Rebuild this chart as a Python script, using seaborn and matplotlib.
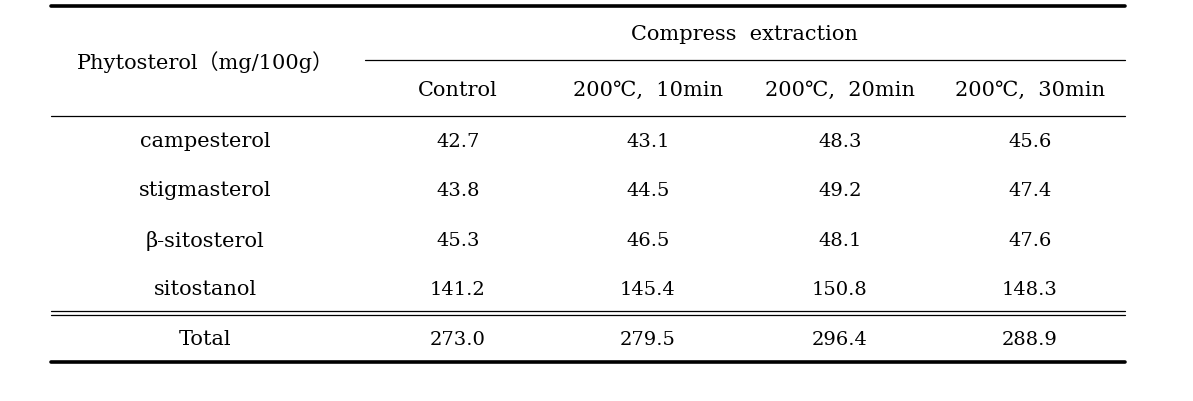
import numpy as np
import matplotlib
matplotlib.use("Agg")
import matplotlib.pyplot as plt
import seaborn as sns

# table content
header_group = "Compress  extraction"
row_header = "Phytosterol（mg/100g）"
columns = ["Control", "200℃,  10min", "200℃,  20min", "200℃,  30min"]
compounds = ["campesterol", "stigmasterol", "β-sitosterol", "sitostanol"]
control = [42.7, 43.8, 45.3, 141.2]
min10 = [43.1, 44.5, 46.5, 145.4]
min20 = [48.3, 49.2, 48.1, 150.8]
min30 = [45.6, 47.4, 47.6, 148.3]
totals = [273.0, 279.5, 296.4, 288.9]

sns.set_style("white")
plt.rcParams['font.family'] = ['DejaVu Serif', 'Noto Sans CJK KR']

fig = plt.figure(figsize=(11.93, 4.02), dpi=100)
ax = fig.add_axes([0, 0, 1, 1])
ax.set_xlim(0, 1193)
ax.set_ylim(402, 0)
ax.axis("off")

fs_txt = 15
fs_num = 14
col_x = [458, 648, 840, 1030]
label_x = 205
row_y = [142, 191, 241, 290]
left, right = 51, 1125

# rules
ax.plot([left, right], [6.5, 6.5], color="black", lw=2.6)
ax.plot([365, right], [61, 61], color="black", lw=0.9)
ax.plot([left, right], [117, 117], color="black", lw=0.9)
ax.plot([left, right], [312, 312], color="black", lw=0.9)
ax.plot([left, right], [316, 316], color="black", lw=0.9)
ax.plot([left, right], [363, 363], color="black", lw=2.6)

kw = dict(ha="center", va="center", color="black")
ax.text(label_x, 62, row_header, fontsize=fs_txt, **kw)
ax.text(744, 35, header_group, fontsize=fs_txt, **kw)
for x, c in zip(col_x, columns):
    ax.text(x, 90, c, fontsize=fs_txt, **kw)

series = [control, min10, min20, min30]
for i, (y, name) in enumerate(zip(row_y, compounds)):
    ax.text(label_x, y, name, fontsize=fs_txt, **kw)
    for x, s in zip(col_x, series):
        ax.text(x, y, f"{s[i]:.1f}", fontsize=fs_num, **kw)

ax.text(label_x, 340, "Total", fontsize=fs_txt, **kw)
for x, t in zip(col_x, totals):
    ax.text(x, 340, f"{t:.1f}", fontsize=fs_num, **kw)

fig.savefig("out.png", dpi=100)
